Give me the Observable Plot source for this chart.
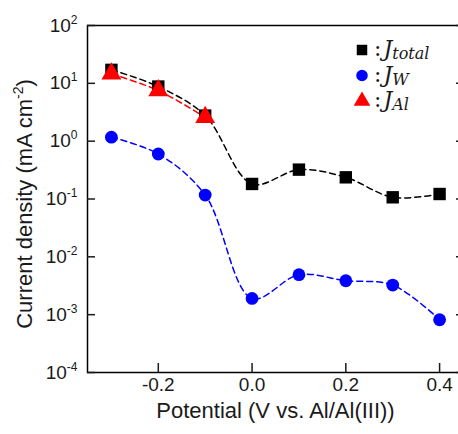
<!DOCTYPE html>
<html>
<head>
<meta charset="utf-8">
<script src="https://cdn.jsdelivr.net/npm/d3@7"></script>
<script src="https://cdn.jsdelivr.net/npm/@observablehq/plot@0.6"></script>
<style>
  html, body { margin: 0; padding: 0; background: white; overflow: hidden; }
  #wrap { position: relative; width: 458px; height: 434px; }
  #legend { position: absolute; left: 0; top: 0; pointer-events: none; }
</style>
</head>
<body>
<div id="wrap"></div>
<script>
// ---- data ----
const potential = [-0.3, -0.2, -0.1, 0.0, 0.1, 0.2, 0.3, 0.4];
const jTotal = [17.1, 8.8, 2.77, 0.182, 0.322, 0.237, 0.107, 0.122];
const jW = [1.17, 0.60, 0.117, 0.00191, 0.00491, 0.00386, 0.00325, 0.000817];
const potentialAl = [-0.3, -0.2, -0.1];
const jAl = [14.6, 7.5, 2.59];
const xTicks = [-0.2, 0.0, 0.2, 0.4];
const yTicks = [1e2, 1e1, 1e0, 1e-1, 1e-2, 1e-3, 1e-4];
const xTitle = "Potential (V vs. Al/Al(III))";
const yTitle = "Current density (mA cm^-2)";
const legendSubs = ["total", "W", "Al"];
const legendColors = ["#000000", "#0000ff", "#ff0000"];
const legendSymbols = ["square", "circle", "triangle"];

const total = potential.map((x, i) => ({x, y: jTotal[i]}));
const w = potential.map((x, i) => ({x, y: jW[i]}));
const al = potentialAl.map((x, i) => ({x, y: jAl[i]}));

const dash = "6,4";
const chart = Plot.plot({
  width: 458,
  height: 434,
  marginLeft: 87,
  marginRight: -5,
  marginTop: 25,
  marginBottom: 62,
  style: {fontFamily: "'Liberation Sans', Arial, sans-serif", fontSize: "19px", color: "#1a1a1a", background: "white"},
  x: {domain: [-0.351, 0.451]},
  y: {type: "log", domain: [1e-4, 1e2]},
  marks: [
    Plot.line(total, {x: "x", y: "y", stroke: "#000", strokeWidth: 1.5, strokeDasharray: dash, curve: "catmull-rom"}),
    Plot.line(w, {x: "x", y: "y", stroke: "#0000ff", strokeWidth: 1.5, strokeDasharray: dash, curve: "catmull-rom"}),
    Plot.line(al, {x: "x", y: "y", stroke: "#ff0000", strokeWidth: 1.5, strokeDasharray: dash, curve: "catmull-rom"}),
    Plot.dot(total, {x: "x", y: "y", symbol: "square", r: 7, fill: "#000"}),
    Plot.dot(w, {x: "x", y: "y", symbol: "circle", r: 6.4, fill: "#0000ff"}),
    Plot.dot(al, {x: "x", y: "y", symbol: "triangle", r: 7.4, fill: "#ff0000"}),
    Plot.frame({stroke: "#000", strokeWidth: 1.5}),
    Plot.axisX({ticks: xTicks, tickSize: -9, tickPadding: 14, strokeWidth: 1.5, tickFormat: d => d.toFixed(1), label: null}),
    Plot.axisY({anchor: "left", ticks: yTicks, tickSize: -8, tickPadding: 18, strokeWidth: 1.5,
      tickFormat: d => "10^" + Math.round(Math.log10(d)), label: null}),
    Plot.axisY({anchor: "right", ticks: yTicks, tickSize: -8, strokeWidth: 1.5, tickFormat: () => "", label: null}),
    Plot.text([xTitle], {frameAnchor: "bottom", textAnchor: "middle", dy: 45, fontSize: 22, fill: "#1a1a1a"}),
    Plot.text([yTitle], {frameAnchor: "left", textAnchor: "middle", dx: -63, dy: 5, rotate: -90, fontSize: 22, fill: "#1a1a1a"})
  ]
});
document.getElementById("wrap").appendChild(chart);

// superscripts
const svgNS = "http://www.w3.org/2000/svg";
chart.querySelectorAll("text").forEach(t => {
  const s = t.textContent;
  const m = s.match(/^(.*)\^(-?\d+)(.*)$/);
  if (!m) return;
  const isTitle = s.length > 8;
  t.textContent = "";
  t.appendChild(document.createTextNode(m[1]));
  const sup = document.createElementNS(svgNS, "tspan");
  sup.setAttribute("font-size", isTitle ? "14" : "12");
  sup.setAttribute("dy", isTitle ? "-9" : "-8");
  sup.textContent = m[2];
  t.appendChild(sup);
  if (m[3]) {
    const rest = document.createElementNS(svgNS, "tspan");
    rest.setAttribute("dy", "9");
    rest.textContent = m[3];
    t.appendChild(rest);
  }
});

// legend
const lg = d3.select("#wrap").append("svg").attr("id", "legend").attr("width", 458).attr("height", 434);
const symMap = {square: d3.symbolSquare, circle: d3.symbolCircle, triangle: d3.symbolTriangle};
const symSize = {square: 110, circle: 105, triangle: 120};
legendSubs.forEach((sub, i) => {
  const cy = 50 + i * 25.5;
  lg.append("path")
    .attr("transform", `translate(362,${cy})`)
    .attr("d", d3.symbol(symMap[legendSymbols[i]], symSize[legendSymbols[i]])())
    .attr("fill", legendColors[i]);
  const t = lg.append("text")
    .attr("x", 374).attr("y", cy + 6)
    .attr("font-family", "'DejaVu Serif', 'Liberation Serif', serif")
    .attr("font-size", 22)
    .attr("fill", "#1a1a1a");
  t.append("tspan").text(":");
  t.append("tspan").attr("dx", 2).attr("font-style", "italic").text("J");
  t.append("tspan").attr("font-style", "italic").attr("font-size", 16).attr("dy", 3).text(sub);
});
</script>
</body>
</html>
